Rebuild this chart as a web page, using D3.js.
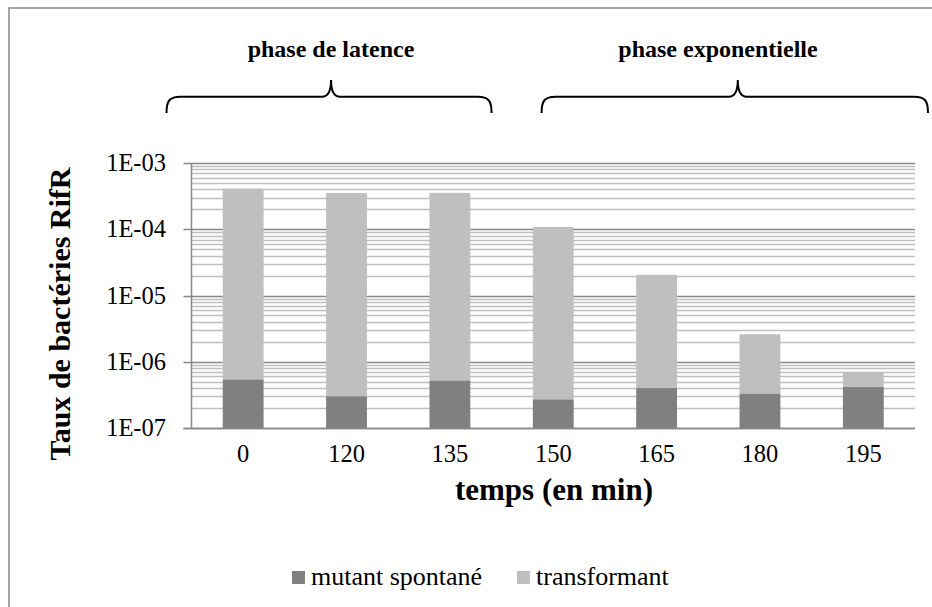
<!DOCTYPE html>
<html>
<head>
<meta charset="utf-8">
<script src="https://cdn.jsdelivr.net/npm/d3@7/dist/d3.min.js"></script>
</head>
<body style="margin:0; background:#fff">
<script>
// chart values
var categories = ["0", "120", "135", "150", "165", "180", "195"];
var mutant = [5.4e-7, 3.0e-7, 5.2e-7, 2.7e-7, 4.0e-7, 3.3e-7, 4.15e-7];
var transformant = [4.09e-4, 3.53e-4, 3.54e-4, 1.08e-4, 2.01e-5, 2.27e-6, 2.75e-7];
var seriesNames = ["mutant spontané", "transformant"];
var yTickLabels = ["1E-07", "1E-06", "1E-05", "1E-04", "1E-03"];
var phaseLabels = ["phase de latence", "phase exponentielle"];

var FONT = "'Liberation Serif', 'Times New Roman', serif";
var colors = ["#808080", "#bfbfbf"];
var W = 932, H = 607;
var plot = { left: 191.5, right: 915, top: 163, bottom: 428 };

var svg = d3.select("body").append("svg")
  .attr("width", W)
  .attr("height", H);

function label(sel, size, bold) {
  return sel
    .style("font-family", FONT, "important")
    .style("font-size", size + "px", "important")
    .style("font-weight", bold ? "bold" : "normal", "important")
    .style("fill", "#000");
}

// outer chart frame
svg.append("rect")
  .attr("x", 9).attr("y", 8)
  .attr("width", W).attr("height", H)
  .attr("fill", "none")
  .attr("stroke", "#878787")
  .attr("stroke-width", 1.5);

var x = d3.scaleBand().domain(categories).range([plot.left, plot.right]).padding(0);
var y = d3.scaleLog().domain([1e-7, 1e-3]).range([plot.bottom, plot.top]);
var barW = x.bandwidth() * 0.395;

function isMajor(v) {
  var l = Math.log10(v);
  return Math.abs(l - Math.round(l)) < 1e-9;
}

// gridlines, minor first then major
var ticks = y.ticks();
var minor = ticks.filter(function (d) { return !isMajor(d); });
var major = ticks.filter(isMajor);

svg.append("g").selectAll("line").data(minor).join("line")
  .attr("x1", plot.left).attr("x2", plot.right)
  .attr("y1", function (d) { return Math.round(y(d)) + 0.5; })
  .attr("y2", function (d) { return Math.round(y(d)) + 0.5; })
  .attr("stroke", "#bfbfbf").attr("stroke-width", 1.3);

svg.append("g").selectAll("line").data(major).join("line")
  .attr("x1", plot.left - 8).attr("x2", plot.right)
  .attr("y1", function (d) { return Math.round(y(d)) + 0.5; })
  .attr("y2", function (d) { return Math.round(y(d)) + 0.5; })
  .attr("stroke", "#878787").attr("stroke-width", 1.3);

// stacked bars
var stacked = categories.map(function (c, i) {
  return { cat: c, m: mutant[i], t: transformant[i] };
});
var g = svg.append("g");
g.selectAll("rect.trans").data(stacked).join("rect")
  .attr("class", "trans")
  .attr("x", function (d) { return x(d.cat) + (x.bandwidth() - barW) / 2; })
  .attr("width", barW)
  .attr("y", function (d) { return y(d.m + d.t); })
  .attr("height", function (d) { return y(d.m) - y(d.m + d.t); })
  .attr("fill", colors[1]);
g.selectAll("rect.mut").data(stacked).join("rect")
  .attr("class", "mut")
  .attr("x", function (d) { return x(d.cat) + (x.bandwidth() - barW) / 2; })
  .attr("width", barW)
  .attr("y", function (d) { return y(d.m); })
  .attr("height", function (d) { return y(1e-7) - y(d.m); })
  .attr("fill", colors[0]);

// axis lines
svg.append("line")
  .attr("x1", plot.left).attr("x2", plot.left)
  .attr("y1", plot.top).attr("y2", plot.bottom)
  .attr("stroke", "#878787").attr("stroke-width", 1.5);
svg.append("line")
  .attr("x1", plot.left - 8).attr("x2", plot.right)
  .attr("y1", plot.bottom + 0.5).attr("y2", plot.bottom + 0.5)
  .attr("stroke", "#878787").attr("stroke-width", 1.5);

// y tick labels
label(svg.append("g").selectAll("text").data(major).join("text")
  .attr("x", 166)
  .attr("y", function (d) { return y(d) + 8; })
  .attr("text-anchor", "end"), 24.5, false)
  .text(function (d, i) { return yTickLabels[i]; });

// x tick labels
label(svg.append("g").selectAll("text").data(categories).join("text")
  .attr("x", function (d) { return x(d) + x.bandwidth() / 2; })
  .attr("y", 462)
  .attr("text-anchor", "middle"), 24.5, false)
  .text(function (d) { return d; });

// axis titles
label(svg.append("text")
  .attr("x", 554)
  .attr("y", 500)
  .attr("text-anchor", "middle"), 31, true)
  .text("temps (en min)");
label(svg.append("text")
  .attr("transform", "translate(70,314) rotate(-90)")
  .attr("text-anchor", "middle"), 30, true)
  .text("Taux de bactéries RifR");

// phase annotations with curly braces
var braces = [
  { x0: x(categories[0]) - 25, x1: x(categories[2]) + x.bandwidth() - 10, label: 331 },
  { x0: x(categories[3]) + 40, x1: plot.right + 13, label: 718 }
];
var braceTop = 80, braceMid = 96.7, braceEnd = 113;
braces.forEach(function (b, i) {
  var x0 = b.x0, x1 = b.x1, tip = (x0 + x1) / 2 + (i === 0 ? 2 : 3);
  var path = "M" + x0 + "," + braceEnd +
    " C" + x0 + "," + (braceMid + 4) + " " + (x0 + 3) + "," + braceMid + " " + (x0 + 14) + "," + braceMid +
    " L" + (tip - 9) + "," + braceMid +
    " C" + (tip - 3) + "," + braceMid + " " + tip + "," + (braceMid - 5) + " " + tip + "," + braceTop +
    " C" + tip + "," + (braceMid - 5) + " " + (tip + 3) + "," + braceMid + " " + (tip + 9) + "," + braceMid +
    " L" + (x1 - 14) + "," + braceMid +
    " C" + (x1 - 3) + "," + braceMid + " " + x1 + "," + (braceMid + 4) + " " + x1 + "," + braceEnd;
  svg.append("path")
    .attr("d", path)
    .attr("fill", "none")
    .attr("stroke", "#000")
    .attr("stroke-width", 2);
  label(svg.append("text")
    .attr("x", b.label)
    .attr("y", 57)
    .attr("text-anchor", "middle"), 24, true)
    .text(phaseLabels[i]);
});

// legend
var legendX = [292, 517];
seriesNames.forEach(function (name, i) {
  svg.append("rect")
    .attr("x", legendX[i]).attr("y", 571)
    .attr("width", 13).attr("height", 13)
    .attr("fill", colors[i]);
  label(svg.append("text")
    .attr("x", legendX[i] + 19).attr("y", 585), 26, false)
    .text(name);
});
</script>
</body>
</html>
